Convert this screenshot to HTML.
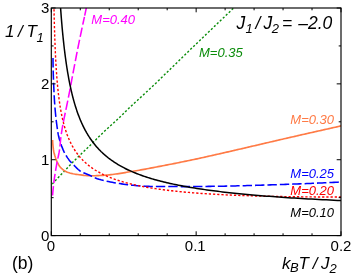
<!DOCTYPE html>
<html><head><meta charset="utf-8">
<style>
html,body{margin:0;padding:0;background:#fff;}
svg{display:block;will-change:transform;}
text{font-family:"Liberation Sans",sans-serif;}
.tk{font-size:15px;fill:#000;}
.it{font-style:italic;}
.ml{font-size:13px;font-style:italic;}
</style></head><body>
<svg width="354" height="279" viewBox="0 0 354 279">
<rect width="354" height="279" fill="#fff"/>
<defs><clipPath id="c"><rect x="51.3" y="8.0" width="289.70" height="227.60"/></clipPath></defs>
<g clip-path="url(#c)"><g fill="none" stroke-linejoin="round" transform="scale(1.0,1)">
<path d="M52.30,184.00 L54.52,181.54 L56.75,179.10 L59.02,176.69 L61.32,174.30 L63.61,171.92 L65.89,169.51 L68.14,167.09 L70.41,164.68 L72.70,162.29 L75.03,159.95 L77.39,157.62 L79.77,155.32 L82.15,153.02 L84.54,150.73 L86.93,148.43 L89.30,146.12 L91.66,143.80 L94.02,141.48 L96.37,139.15 L98.73,136.83 L101.11,134.52 L103.49,132.23 L105.90,129.96 L108.34,127.72 L110.79,125.50 L113.26,123.29 L115.71,121.06 L118.13,118.80 L120.51,116.51 L122.88,114.20 L125.24,111.87 L127.59,109.55 L129.96,107.23 L132.35,104.94 L134.77,102.68 L137.21,100.45 L139.66,98.22 L142.11,96.00 L144.57,93.77 L147.00,91.53 L149.41,89.27 L151.82,87.00 L154.22,84.72 L156.61,82.43 L158.99,80.13 L161.38,77.83 L163.75,75.53 L166.12,73.22 L168.49,70.91 L170.86,68.60 L173.23,66.28 L175.59,63.96 L177.96,61.65 L180.32,59.33 L182.69,57.02 L185.06,54.70 L187.43,52.39 L189.80,50.09 L192.18,47.79 L194.57,45.49 L196.95,43.19 L199.34,40.90 L201.72,38.61 L204.11,36.31 L206.50,34.02 L208.89,31.73 L211.28,29.44 L213.67,27.15 L216.06,24.86 L218.45,22.57 L220.84,20.28 L223.24,18.00 L225.63,15.71 L228.02,13.42 L230.42,11.14 L232.81,8.85 L235.20,6.56 L237.60,4.28 L240.00,2.00" stroke="#0a8c0a" stroke-width="1.4" stroke-dasharray="2.15 1.95"/>
<path d="M52.65,140.10 L52.68,141.71 L52.77,143.30 L52.90,144.90 L53.06,146.48 L53.25,148.06 L53.45,149.63 L53.69,151.19 L54.02,152.75 L54.43,154.30 L54.87,155.84 L55.34,157.35 L55.87,158.86 L56.47,160.34 L57.12,161.80 L57.81,163.23 L58.57,164.65 L59.42,166.02 L60.36,167.27 L61.45,168.41 L62.68,169.48 L63.99,170.40 L65.34,171.19 L66.79,171.90 L68.28,172.49 L69.79,172.97 L71.33,173.39 L72.89,173.75 L74.45,174.06 L76.02,174.32 L77.60,174.55 L79.18,174.75 L80.76,174.94 L82.34,175.14 L83.93,175.32 L85.51,175.46 L87.10,175.58 L88.69,175.68 L90.28,175.76 L91.87,175.80 L93.47,175.79 L95.06,175.75 L96.65,175.69 L98.24,175.62 L99.84,175.52 L101.43,175.42 L103.02,175.31 L104.61,175.20 L106.19,175.09 L107.77,174.96 L109.36,174.81 L110.94,174.65 L112.52,174.46 L114.10,174.26 L115.68,174.05 L117.26,173.82 L118.83,173.58 L120.41,173.34 L121.99,173.08 L123.56,172.83 L125.13,172.57 L126.71,172.30 L128.28,172.04 L129.85,171.78 L131.43,171.52 L133.00,171.27 L134.57,171.01 L136.14,170.75 L137.71,170.48 L139.28,170.21 L140.85,169.93 L142.41,169.65 L143.98,169.36 L145.55,169.07 L147.11,168.77 L148.68,168.48 L150.24,168.18 L151.81,167.88 L153.37,167.58 L154.94,167.28 L156.50,166.97 L158.06,166.67 L159.63,166.37 L161.19,166.07 L162.76,165.77 L164.32,165.47 L165.88,165.16 L167.45,164.86 L169.01,164.55 L170.57,164.25 L172.14,163.94 L173.70,163.63 L175.26,163.32 L176.82,163.01 L178.39,162.69 L179.95,162.38 L181.51,162.06 L183.07,161.75 L184.63,161.43 L186.19,161.11 L187.75,160.79 L189.31,160.46 L190.87,160.14 L192.43,159.81 L193.99,159.48 L195.54,159.15 L197.10,158.82 L198.66,158.49 L200.22,158.15 L201.77,157.81 L203.33,157.47 L204.88,157.12 L206.43,156.76 L207.99,156.41 L209.54,156.05 L211.09,155.69 L212.64,155.34 L214.20,154.98 L215.75,154.63 L217.30,154.28 L218.86,153.93 L220.41,153.58 L221.96,153.23 L223.52,152.87 L225.07,152.52 L226.62,152.17 L228.18,151.82 L229.73,151.46 L231.28,151.11 L232.83,150.75 L234.39,150.39 L235.94,150.03 L237.49,149.67 L239.04,149.31 L240.59,148.95 L242.15,148.59 L243.70,148.23 L245.25,147.87 L246.80,147.51 L248.35,147.15 L249.90,146.78 L251.45,146.42 L253.00,146.06 L254.55,145.69 L256.10,145.33 L257.65,144.97 L259.21,144.60 L260.76,144.24 L262.31,143.88 L263.86,143.51 L265.41,143.15 L266.96,142.79 L268.51,142.43 L270.06,142.06 L271.61,141.70 L273.16,141.34 L274.71,140.98 L276.27,140.62 L277.82,140.26 L279.37,139.90 L280.92,139.54 L282.47,139.18 L284.03,138.82 L285.58,138.47 L287.13,138.11 L288.68,137.76 L290.23,137.40 L291.79,137.04 L293.34,136.69 L294.89,136.33 L296.45,135.98 L298.00,135.62 L299.55,135.27 L301.10,134.92 L302.66,134.56 L304.21,134.21 L305.76,133.86 L307.32,133.50 L308.87,133.15 L310.42,132.80 L311.98,132.45 L313.53,132.09 L315.08,131.74 L316.64,131.39 L318.19,131.04 L319.74,130.69 L321.30,130.34 L322.85,129.99 L324.40,129.64 L325.96,129.29 L327.51,128.94 L329.07,128.59 L330.62,128.24 L332.17,127.89 L333.73,127.54 L335.28,127.19 L336.84,126.84 L338.39,126.50 L339.95,126.15 L341.50,125.80" stroke="#ff7a45" stroke-width="1.65"/>
<path d="M53.00,58.00 L53.00,59.93 L53.02,61.86 L53.04,63.80 L53.07,65.73 L53.11,67.66 L53.15,69.59 L53.20,71.52 L53.26,73.45 L53.32,75.37 L53.39,77.30 L53.46,79.23 L53.54,81.16 L53.61,83.09 L53.69,85.01 L53.78,86.94 L53.86,88.86 L53.95,90.79 L54.03,92.71 L54.13,94.64 L54.23,96.57 L54.34,98.50 L54.45,100.44 L54.58,102.37 L54.72,104.31 L54.87,106.24 L55.02,108.17 L55.19,110.11 L55.36,112.04 L55.55,113.97 L55.74,115.90 L55.95,117.82 L56.16,119.74 L56.39,121.65 L56.63,123.57 L56.88,125.47 L57.14,127.37 L57.41,129.27 L57.69,131.15 L57.99,133.03 L58.34,134.92 L58.76,136.80 L59.24,138.69 L59.78,140.56 L60.36,142.42 L60.99,144.27 L61.65,146.10 L62.35,147.90 L63.06,149.66 L63.82,151.40 L64.69,153.13 L65.65,154.83 L66.68,156.49 L67.76,158.10 L68.87,159.66 L70.06,161.16 L71.34,162.60 L72.69,164.00 L74.07,165.37 L75.43,166.74 L76.80,168.15 L78.21,169.50 L79.69,170.72 L81.27,171.71 L82.98,172.56 L84.77,173.32 L86.59,174.05 L88.39,174.79 L90.15,175.58 L91.92,176.39 L93.69,177.19 L95.46,177.97 L97.25,178.68 L99.06,179.32 L100.89,179.85 L102.75,180.33 L104.62,180.78 L106.50,181.20 L108.40,181.59 L110.30,181.96 L112.21,182.30 L114.12,182.64 L116.03,182.96 L117.93,183.27 L119.83,183.58 L121.74,183.88 L123.65,184.17 L125.56,184.45 L127.48,184.71 L129.39,184.94 L131.31,185.16 L133.23,185.34 L135.15,185.50 L137.07,185.66 L138.99,185.81 L140.92,185.95 L142.85,186.08 L144.78,186.19 L146.70,186.29 L148.63,186.36 L150.56,186.40 L152.49,186.42 L154.42,186.44 L156.35,186.46 L158.27,186.48 L160.20,186.50 L162.13,186.51 L164.06,186.53 L165.99,186.54 L167.92,186.55 L169.85,186.56 L171.78,186.57 L173.71,186.58 L175.64,186.59 L177.57,186.59 L179.50,186.59 L181.43,186.60 L183.36,186.60 L185.29,186.60 L187.22,186.60 L189.15,186.59 L191.08,186.58 L193.01,186.57 L194.94,186.55 L196.87,186.54 L198.80,186.52 L200.73,186.49 L202.66,186.47 L204.59,186.44 L206.51,186.42 L208.44,186.39 L210.37,186.36 L212.30,186.34 L214.23,186.31 L216.16,186.28 L218.09,186.25 L220.02,186.22 L221.95,186.19 L223.88,186.15 L225.81,186.12 L227.74,186.08 L229.66,186.03 L231.59,185.99 L233.52,185.95 L235.45,185.90 L237.38,185.85 L239.31,185.80 L241.24,185.75 L243.17,185.70 L245.10,185.65 L247.02,185.59 L248.95,185.54 L250.88,185.48 L252.81,185.43 L254.74,185.37 L256.67,185.31 L258.60,185.25 L260.53,185.19 L262.45,185.13 L264.38,185.07 L266.31,185.01 L268.24,184.95 L270.17,184.89 L272.10,184.83 L274.02,184.77 L275.95,184.71 L277.88,184.65 L279.81,184.58 L281.74,184.52 L283.67,184.45 L285.59,184.38 L287.52,184.31 L289.45,184.24 L291.38,184.17 L293.31,184.10 L295.24,184.03 L297.16,183.95 L299.09,183.88 L301.02,183.80 L302.95,183.73 L304.87,183.65 L306.80,183.57 L308.73,183.49 L310.66,183.41 L312.59,183.33 L314.51,183.24 L316.44,183.16 L318.37,183.08 L320.30,182.99 L322.23,182.91 L324.15,182.82 L326.08,182.73 L328.01,182.64 L329.94,182.55 L331.86,182.46 L333.79,182.37 L335.72,182.28 L337.65,182.19 L339.57,182.09 L341.50,182.00" stroke="#0000ff" stroke-width="1.55" stroke-dasharray="9.4 3"/>
<path d="M53.85,0.77 L53.90,3.26 L53.94,5.71 L53.99,8.11 L54.04,10.46 L54.09,12.78 L54.15,15.05 L54.20,17.28 L54.25,19.47 L54.31,21.63 L54.36,23.74 L54.42,25.83 L54.48,27.87 L54.53,29.88 L54.59,31.86 L54.65,33.81 L54.72,35.72 L54.78,37.61 L54.84,39.46 L54.91,41.29 L54.98,43.08 L55.04,44.85 L55.11,46.59 L55.18,48.31 L55.25,50.00 L55.33,51.66 L55.40,53.30 L55.48,54.92 L55.55,56.52 L55.63,58.09 L55.71,59.64 L55.79,61.17 L55.88,62.67 L55.96,64.16 L56.05,65.63 L56.14,67.08 L56.22,68.51 L56.32,69.92 L56.41,71.31 L56.50,72.68 L56.60,74.04 L56.70,75.38 L56.80,76.71 L56.90,78.02 L57.00,79.31 L57.10,80.59 L57.21,81.85 L57.32,83.10 L57.43,84.34 L57.55,85.56 L57.66,86.77 L57.78,87.96 L57.90,89.14 L58.02,90.31 L58.14,91.47 L58.27,92.61 L58.40,93.74 L58.53,94.86 L58.66,95.97 L58.80,97.07 L58.94,98.16 L59.08,99.24 L59.22,100.30 L59.37,101.36 L59.52,102.41 L59.67,103.44 L59.82,104.47 L59.98,105.49 L60.14,106.50 L60.30,107.49 L60.47,108.48 L60.64,109.47 L60.81,110.44 L60.98,111.40 L61.16,112.36 L61.35,113.31 L61.53,114.25 L61.72,115.18 L61.91,116.10 L62.11,117.02 L62.31,117.93 L62.51,118.83 L62.72,119.73 L62.93,120.62 L63.14,121.50 L63.36,122.37 L63.58,123.24 L63.81,124.10 L64.04,124.95 L64.27,125.80 L64.51,126.64 L64.76,127.47 L65.01,128.30 L65.26,129.12 L65.52,129.94 L65.78,130.75 L66.05,131.55 L66.32,132.35 L66.59,133.14 L66.88,133.93 L67.16,134.71 L67.46,135.48 L67.76,136.25 L68.06,137.01 L68.37,137.77 L68.68,138.52 L69.00,139.27 L69.33,140.01 L69.66,140.74 L70.00,141.47 L70.35,142.20 L70.70,142.92 L71.06,143.63 L71.42,144.34 L71.79,145.05 L72.17,145.75 L72.55,146.44 L72.95,147.13 L73.35,147.82 L73.75,148.49 L74.17,149.17 L74.59,149.84 L75.02,150.50 L75.46,151.16 L75.90,151.82 L76.35,152.46 L76.82,153.11 L77.29,153.75 L77.77,154.38 L78.26,155.01 L78.75,155.64 L79.26,156.26 L79.78,156.88 L80.30,157.49 L80.84,158.09 L81.38,158.69 L81.94,159.29 L82.50,159.88 L83.08,160.47 L83.66,161.05 L84.26,161.63 L84.87,162.20 L85.49,162.77 L86.12,163.33 L86.76,163.89 L87.41,164.45 L88.08,165.00 L88.76,165.54 L89.45,166.08 L90.15,166.62 L90.87,167.15 L91.60,167.67 L92.34,168.20 L93.10,168.71 L93.87,169.23 L94.66,169.73 L95.46,170.24 L96.27,170.73 L97.10,171.23 L97.95,171.72 L98.81,172.20 L99.68,172.68 L100.58,173.16 L101.48,173.63 L102.41,174.09 L103.35,174.56 L104.31,175.01 L105.29,175.46 L106.29,175.91 L107.30,176.35 L108.34,176.79 L109.39,177.23 L110.46,177.66 L111.55,178.08 L112.66,178.50 L113.79,178.92 L114.95,179.33 L116.12,179.73 L117.32,180.13 L118.53,180.53 L119.77,180.92 L121.04,181.31 L122.32,181.69 L123.63,182.07 L124.97,182.45 L126.33,182.82 L127.71,183.18 L129.12,183.54 L130.56,183.90 L132.02,184.25 L133.51,184.59 L135.03,184.93 L136.57,185.27 L138.14,185.60 L139.75,185.93 L141.38,186.26 L143.04,186.57 L144.73,186.89 L146.45,187.20 L148.21,187.50 L150.00,187.80 L151.82,188.10 L153.67,188.39 L155.56,188.68 L157.48,188.96 L159.44,189.24 L161.44,189.51 L163.47,189.78 L165.54,190.04 L167.65,190.30 L169.79,190.55 L171.98,190.80 L174.21,191.05 L176.47,191.29 L178.78,191.53 L181.13,191.76 L183.53,191.98 L185.97,192.20 L188.45,192.42 L190.98,192.63 L193.56,192.84 L196.18,193.04 L198.86,193.24 L201.58,193.44 L204.35,193.62 L207.18,193.81 L210.05,193.99 L212.98,194.16 L215.96,194.33 L219.00,194.49 L222.09,194.65 L225.24,194.81 L228.45,194.96 L231.72,195.10 L235.05,195.24 L238.44,195.38 L241.89,195.51 L245.41,195.63 L248.99,195.75 L252.64,195.87 L256.35,195.98 L260.13,196.08 L263.99,196.18 L267.91,196.27 L271.90,196.36 L275.97,196.45 L280.12,196.52 L284.34,196.60 L288.64,196.66 L293.02,196.72 L297.48,196.78 L302.02,196.83 L306.64,196.87 L311.35,196.91 L316.15,196.94 L321.04,196.97 L326.01,196.99 L331.08,197.01 L336.24,197.01 L341.50,197.02" stroke="#ff0000" stroke-width="1.4" stroke-dasharray="2.25 1.95"/>
<path d="M52.60,195.50 L52.73,193.69 L52.88,191.89 L53.04,190.08 L53.22,188.28 L53.41,186.47 L53.60,184.67 L53.80,182.86 L54.02,181.06 L54.26,179.25 L54.52,177.45 L54.79,175.64 L55.07,173.84 L55.35,172.03 L55.65,170.23 L55.95,168.42 L56.27,166.62 L56.59,164.81 L56.92,163.01 L57.26,161.20 L57.62,159.40 L58.01,157.59 L58.41,155.79 L58.79,153.98 L59.14,152.18 L59.45,150.37 L59.69,148.57 L59.89,146.76 L60.08,144.96 L60.25,143.15 L60.42,141.35 L60.60,139.54 L60.81,137.74 L61.04,135.93 L61.30,134.13 L61.57,132.32 L61.86,130.52 L62.16,128.71 L62.48,126.91 L62.80,125.10 L63.14,123.30 L63.49,121.49 L63.84,119.69 L64.20,117.88 L64.57,116.08 L64.94,114.27 L65.32,112.47 L65.70,110.66 L66.08,108.86 L66.46,107.05 L66.83,105.25 L67.21,103.44 L67.58,101.64 L67.95,99.83 L68.31,98.03 L68.66,96.22 L69.01,94.42 L69.36,92.61 L69.70,90.81 L70.04,89.00 L70.38,87.20 L70.72,85.39 L71.06,83.59 L71.40,81.78 L71.74,79.98 L72.08,78.17 L72.42,76.37 L72.76,74.56 L73.10,72.76 L73.45,70.95 L73.79,69.15 L74.13,67.34 L74.47,65.54 L74.82,63.73 L75.17,61.93 L75.51,60.12 L75.86,58.32 L76.22,56.51 L76.57,54.71 L76.92,52.90 L77.28,51.10 L77.64,49.29 L78.00,47.49 L78.37,45.68 L78.73,43.88 L79.10,42.07 L79.47,40.27 L79.85,38.46 L80.22,36.66 L80.60,34.85 L80.98,33.05 L81.36,31.24 L81.74,29.44 L82.12,27.63 L82.50,25.83 L82.89,24.02 L83.28,22.22 L83.67,20.41 L84.06,18.61 L84.45,16.80" stroke="#ff00ff" stroke-width="1.55" stroke-dasharray="9.4 3"/>
<path d="M84.7,15.6L87.56,2" stroke="#ff00ff" stroke-width="1.55"/>
<path d="M60.00,-0.52 L60.12,1.29 L60.24,3.09 L60.36,4.87 L60.48,6.65 L60.61,8.41 L60.74,10.16 L60.87,11.91 L61.00,13.64 L61.13,15.36 L61.26,17.07 L61.40,18.77 L61.54,20.45 L61.67,22.13 L61.82,23.80 L61.96,25.45 L62.10,27.10 L62.25,28.73 L62.40,30.35 L62.55,31.97 L62.71,33.57 L62.86,35.16 L63.02,36.74 L63.18,38.31 L63.34,39.87 L63.51,41.41 L63.67,42.95 L63.84,44.48 L64.01,45.99 L64.18,47.50 L64.36,48.99 L64.54,50.48 L64.72,51.95 L64.90,53.42 L65.09,54.87 L65.28,56.31 L65.47,57.75 L65.66,59.17 L65.85,60.58 L66.05,61.98 L66.25,63.38 L66.46,64.76 L66.66,66.13 L66.87,67.49 L67.09,68.84 L67.30,70.18 L67.52,71.51 L67.74,72.83 L67.97,74.15 L68.19,75.45 L68.42,76.74 L68.66,78.02 L68.89,79.29 L69.13,80.56 L69.38,81.81 L69.62,83.05 L69.87,84.29 L70.13,85.51 L70.38,86.72 L70.64,87.93 L70.91,89.13 L71.17,90.31 L71.44,91.49 L71.72,92.66 L72.00,93.82 L72.28,94.97 L72.56,96.11 L72.85,97.24 L73.15,98.36 L73.45,99.47 L73.75,100.58 L74.05,101.67 L74.36,102.76 L74.68,103.84 L75.00,104.91 L75.32,105.97 L75.65,107.02 L75.98,108.06 L76.32,109.10 L76.66,110.12 L77.00,111.14 L77.35,112.15 L77.71,113.15 L78.07,114.14 L78.43,115.13 L78.80,116.10 L79.18,117.07 L79.56,118.03 L79.94,118.98 L80.34,119.92 L80.73,120.86 L81.13,121.79 L81.54,122.71 L81.95,123.62 L82.37,124.52 L82.79,125.42 L83.22,126.31 L83.66,127.19 L84.10,128.07 L84.55,128.93 L85.00,129.79 L85.46,130.64 L85.92,131.49 L86.40,132.32 L86.87,133.15 L87.36,133.97 L87.85,134.79 L88.35,135.60 L88.85,136.40 L89.37,137.19 L89.89,137.98 L90.41,138.76 L90.95,139.53 L91.49,140.30 L92.03,141.06 L92.59,141.81 L93.15,142.56 L93.72,143.29 L94.30,144.03 L94.89,144.75 L95.48,145.47 L96.08,146.19 L96.69,146.89 L97.31,147.59 L97.94,148.29 L98.58,148.98 L99.22,149.66 L99.87,150.33 L100.54,151.00 L101.21,151.67 L101.89,152.32 L102.58,152.97 L103.28,153.62 L103.99,154.26 L104.70,154.89 L105.43,155.52 L106.17,156.14 L106.92,156.76 L107.68,157.37 L108.44,157.98 L109.22,158.57 L110.01,159.17 L110.81,159.76 L111.63,160.34 L112.45,160.92 L113.28,161.49 L114.13,162.06 L114.98,162.62 L115.85,163.17 L116.73,163.73 L117.62,164.27 L118.53,164.81 L119.44,165.35 L120.37,165.88 L121.32,166.41 L122.27,166.93 L123.24,167.44 L124.22,167.95 L125.21,168.46 L126.22,168.96 L127.24,169.46 L128.28,169.95 L129.33,170.44 L130.39,170.92 L131.47,171.40 L132.56,171.87 L133.67,172.34 L134.79,172.81 L135.93,173.27 L137.08,173.72 L138.25,174.17 L139.44,174.62 L140.64,175.06 L141.86,175.50 L143.09,175.93 L144.35,176.36 L145.61,176.79 L146.90,177.21 L148.20,177.63 L149.52,178.04 L150.86,178.45 L152.22,178.86 L153.60,179.26 L154.99,179.66 L156.40,180.05 L157.84,180.44 L159.29,180.83 L160.76,181.21 L162.25,181.59 L163.77,181.96 L165.30,182.33 L166.86,182.70 L168.43,183.06 L170.03,183.42 L171.65,183.78 L173.29,184.13 L174.95,184.48 L176.64,184.83 L178.34,185.17 L180.08,185.51 L181.83,185.85 L183.61,186.18 L185.42,186.51 L187.24,186.83 L189.10,187.16 L190.98,187.48 L192.88,187.79 L194.81,188.11 L196.77,188.42 L198.75,188.72 L200.76,189.03 L202.80,189.33 L204.86,189.62 L206.96,189.92 L209.08,190.21 L211.23,190.50 L213.41,190.78 L215.62,191.06 L217.86,191.34 L220.13,191.62 L222.43,191.89 L224.77,192.16 L227.13,192.43 L229.53,192.70 L231.96,192.96 L234.42,193.22 L236.92,193.48 L239.45,193.73 L242.02,193.98 L244.62,194.23 L247.25,194.48 L249.92,194.72 L252.63,194.96 L255.38,195.20 L258.16,195.44 L260.98,195.67 L263.84,195.90 L266.73,196.13 L269.67,196.36 L272.65,196.58 L275.67,196.80 L278.73,197.02 L281.83,197.24 L284.97,197.45 L288.15,197.67 L291.38,197.88 L294.66,198.08 L297.98,198.29 L301.34,198.49 L304.75,198.69 L308.20,198.89 L311.71,199.08 L315.26,199.28 L318.85,199.47 L322.50,199.66 L326.20,199.85 L329.95,200.03 L333.75,200.22 L337.60,200.40 L341.50,200.58" stroke="#000" stroke-width="1.5"/>
</g></g>
<rect x="51.3" y="8.0" width="289.70" height="227.60" fill="none" stroke="#000" stroke-width="1.15"/>
<path d="M51.30,235.6v-4.3M51.30,8.0v4.3M80.27,235.6v-2.3M80.27,8.0v2.3M109.24,235.6v-2.3M109.24,8.0v2.3M138.21,235.6v-2.3M138.21,8.0v2.3M167.18,235.6v-2.3M167.18,8.0v2.3M196.15,235.6v-4.3M196.15,8.0v4.3M225.12,235.6v-2.3M225.12,8.0v2.3M254.09,235.6v-2.3M254.09,8.0v2.3M283.06,235.6v-2.3M283.06,8.0v2.3M312.03,235.6v-2.3M312.03,8.0v2.3M341.00,235.6v-4.3M341.00,8.0v4.3M51.3,235.60h4.3M341.0,235.60h-4.3M51.3,197.67h2.3M341.0,197.67h-2.3M51.3,159.73h4.3M341.0,159.73h-4.3M51.3,121.80h2.3M341.0,121.80h-2.3M51.3,83.87h4.3M341.0,83.87h-4.3M51.3,45.93h2.3M341.0,45.93h-2.3M51.3,8.00h4.3M341.0,8.00h-4.3" stroke="#000" stroke-width="1" fill="none"/>
<g class="tk" text-anchor="end">
<text id="y3" x="49.3" y="12.6">3</text>
<text id="y2" x="49.3" y="88.9">2</text>
<text id="y1" x="49.3" y="164.8">1</text>
<text id="y0" x="49.3" y="241.0">0</text>
</g>
<g class="tk" text-anchor="middle">
<text id="x0" x="50.8" y="251.2">0</text>
<text id="x1" x="195.3" y="251.2">0.1</text>
<text id="x2" x="341.0" y="251.2">0.2</text>
</g>
<text x="11.9" y="269" font-size="17.5">(b)</text>
<g class="it" font-size="17">
<text id="a1" x="5.0" y="36.6">1</text><text id="a2" x="17.9" y="36.6">/</text><text id="a3" x="26.5" y="36.6">T</text><text id="a4" x="36.6" y="41.5" font-size="13">1</text>
</g>
<g class="it" font-size="17.5">
<text id="b1" x="236.4" y="28.7">J</text><text id="b2" x="245.6" y="33.2" font-size="13">1</text><text id="b3" x="255.5" y="28.7">/</text><text id="b4" x="263.6" y="28.7">J</text><text id="b5" x="271.8" y="33.2" font-size="13">2</text><text id="b6" x="282" y="28.7">=</text><text id="b7" x="298.3" y="28.7">–2.0</text>
</g>
<g class="it" font-size="17">
<text id="c1" x="282" y="268.8">k</text><text id="c2" x="290" y="272.2" font-size="13">B</text><text id="c3" x="298.5" y="268.8">T</text><text id="c4" x="312.8" y="268.8">/</text><text id="c5" x="321" y="268.8">J</text><text id="c6" x="329.5" y="273.3" font-size="13">2</text>
</g>
<text class="ml" x="91.3" y="24.2" fill="#ff00ff">M=0.40</text>
<text class="ml" x="199.0" y="57.4" fill="#0a8c0a">M=0.35</text>
<text class="ml" x="290.3" y="123.6" fill="#ff7a45">M=0.30</text>
<text class="ml" x="290.3" y="178.2" fill="#0000ff">M=0.25</text>
<text class="ml" x="290.3" y="194.5" fill="#ff0000">M=0.20</text>
<text class="ml" x="290.3" y="216.8" fill="#000">M=0.10</text>
</svg>
</body></html>
